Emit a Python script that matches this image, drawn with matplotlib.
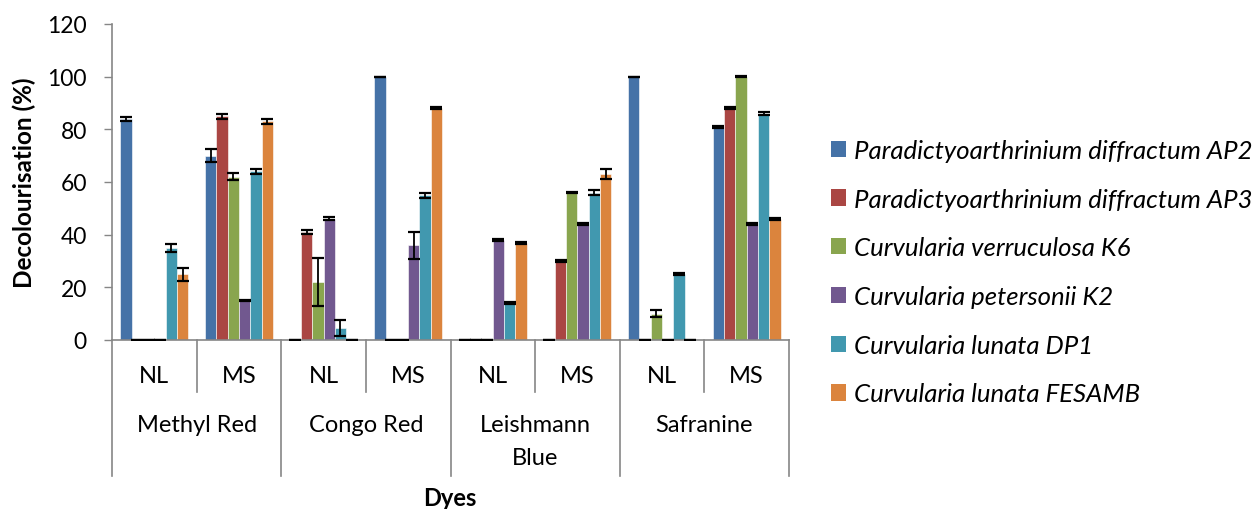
import numpy as np
import matplotlib.pyplot as plt
from matplotlib.patches import Patch
from matplotlib.transforms import blended_transform_factory

plt.rcParams['font.family'] = ['Lato', 'DejaVu Sans']

# categories
dyes = ['Methyl Red', 'Congo Red', 'Leishmann\nBlue', 'Safranine']
media = ['NL', 'MS']
strains = ['Paradictyoarthrinium diffractum AP2',
           'Paradictyoarthrinium diffractum AP3',
           'Curvularia verruculosa K6',
           'Curvularia petersonii K2',
           'Curvularia lunata DP1',
           'Curvularia lunata FESAMB']

# decolourisation (%) per group: MR NL, MR MS, CR NL, CR MS, LB NL, LB MS, Saf NL, Saf MS
ap2 = [84, 70, 0, 100, 0, 0, 100, 81]
ap3 = [0, 85, 41, 0, 0, 30, 0, 88]
k6 = [0, 62, 22, 0, 0, 56, 10, 100]
k2 = [0, 15, 46, 36, 38, 44, 0, 44]
dp1 = [35, 64, 4.5, 55, 14, 56, 25, 86]
fesamb = [25, 83, 0, 88, 37, 63, 0, 46]

# error bars
ap2_err = [0.8, 2.5, 0, 0, 0, 0, 0, 0.4]
ap3_err = [0, 1.0, 0.6, 0, 0, 0.3, 0, 0.3]
k6_err = [0, 1.3, 9, 0, 0, 0.3, 1.4, 0.3]
k2_err = [0, 0.3, 0.6, 5.2, 0.5, 0.4, 0, 0.3]
dp1_err = [1.6, 1.0, 3.0, 0.9, 0.3, 0.8, 0.5, 0.5]
fesamb_err = [2.5, 0.9, 0, 0.3, 0.4, 2.0, 0, 0.5]

values = [ap2, ap3, k6, k2, dp1, fesamb]
errors = [ap2_err, ap3_err, k6_err, k2_err, dp1_err, fesamb_err]
colors = ['#4572A7', '#AA4643', '#89A54E', '#71588F', '#4198AF', '#DB843D']

W, H = 1260, 510
fig = plt.figure(figsize=(12.6, 5.1), dpi=100)
ax_l, ax_r, ax_t, ax_b = 112, 789, 25, 341
ax = fig.add_axes([ax_l / W, 1 - ax_b / H, (ax_r - ax_l) / W, (ax_b - ax_t) / H])

n_groups = len(dyes) * len(media)
x = np.arange(n_groups)
bw = 1 / 7.5
for i in range(len(strains)):
    ax.bar(x + (i - 2.5) * bw, values[i], bw, color=colors[i],
           edgecolor='#ffffff', linewidth=0.4, label=strains[i], zorder=2)
    ax.errorbar(x + (i - 2.5) * bw, values[i], yerr=errors[i], fmt='none',
                ecolor='black', elinewidth=1.3, capsize=4.2, capthick=1.6,
                zorder=3)

fs = 17
ax.set_xlim(-0.5, n_groups - 0.5)
ax.set_ylim(0, 120)
ax.set_yticks(range(0, 121, 20))
ax.tick_params(axis='y', direction='out', length=6, width=1, color='#868686',
               labelsize=16.5, pad=12)
ax.set_xticks([])
for s in ['top', 'right']:
    ax.spines[s].set_visible(False)
for s in ['left', 'bottom']:
    ax.spines[s].set_color('#868686')
    ax.spines[s].set_linewidth(1.2)

# two-level category axis
axh = ax_b - ax_t
def ay(py):
    return -(py - ax_b) / axh

tr = blended_transform_factory(ax.transData, ax.transAxes)
for k in range(n_groups + 1):
    xb = k - 0.5
    low = 477 if k % 2 == 0 else 393
    ax.plot([xb, xb], [0, ay(low)], color='#868686', lw=1.2,
            transform=tr, clip_on=False)
for k in range(n_groups):
    ax.text(k, ay(377), media[k % 2], transform=tr, ha='center', va='center',
            fontsize=fs)
for d in range(len(dyes)):
    ax.text(2 * d + 0.5, ay(415), dyes[d], transform=tr, ha='center', va='top',
            fontsize=fs, linespacing=1.72)

fig.text(450 / W, 1 - 499 / H, 'Dyes', ha='center', va='center',
         fontsize=fs, fontweight='bold')
fig.text(24 / W, 1 - 183 / H, 'Decolourisation (%)', ha='center', va='center',
         rotation=90, fontsize=17.5, fontweight='bold')

handles = [Patch(facecolor=c, edgecolor='none') for c in colors]
fig.legend(handles, strains, loc='upper left',
           bbox_to_anchor=(831 / W, 1 - 140 / H), frameon=False,
           prop={'style': 'italic', 'size': 18.5}, handlelength=0.6,
           handleheight=0.6, handletextpad=0.28, labelspacing=1.0,
           borderaxespad=0, borderpad=0)

fig.savefig('out.png', dpi=100)
